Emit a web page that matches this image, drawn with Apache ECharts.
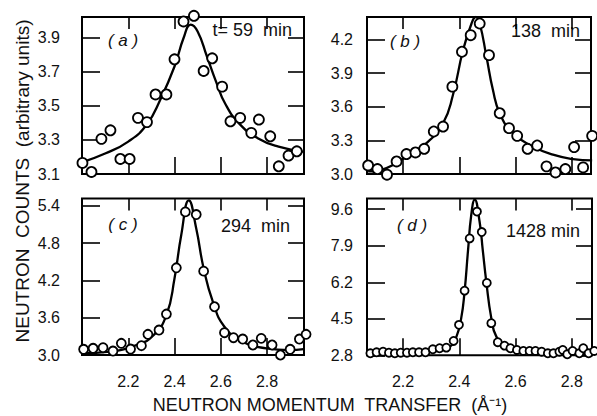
<!DOCTYPE html>
<html>
<head>
<meta charset="utf-8">
<script src="https://cdn.jsdelivr.net/npm/echarts@6.0.0/dist/echarts.min.js"></script>
<style>
html, body { margin: 0; padding: 0; background: #fff; }
#chart { width: 597px; height: 416px; }
</style>
</head>
<body>
<div id="chart"></div>
<script>
// tick labels
const xTicks = [2.2, 2.4, 2.6, 2.8];
const yTicksA = [3.1, 3.3, 3.5, 3.7, 3.9];
const yTicksB = [3.0, 3.3, 3.6, 3.9, 4.2];
const yTicksC = [3.0, 3.6, 4.2, 4.8, 5.4];
const yTicksD = [2.8, 4.5, 6.2, 7.9, 9.6];

// (a) t = 59 min
const xA = [2.002, 2.041, 2.084, 2.123, 2.166, 2.206, 2.242, 2.281, 2.318, 2.365, 2.40, 2.439,
  2.484, 2.526, 2.563, 2.606, 2.642, 2.684, 2.732, 2.765, 2.814, 2.851, 2.893, 2.929];
const yA = [3.165, 3.112, 3.306, 3.356, 3.188, 3.188, 3.429, 3.404, 3.566, 3.566, 3.772, 3.994,
  4.027, 3.704, 3.778, 3.612, 3.409, 3.429, 3.341, 3.419, 3.321, 3.145, 3.208, 3.233];
const fitXA = [2.002, 2.10, 2.20, 2.28, 2.34, 2.40, 2.44, 2.47, 2.50, 2.54, 2.58, 2.62, 2.68, 2.76, 2.85, 2.96];
const fitYA = [3.17, 3.22, 3.29, 3.39, 3.54, 3.73, 3.90, 3.975, 3.935, 3.79, 3.64, 3.51, 3.395, 3.31, 3.26, 3.23];

// (b) 138 min
const xB = [2.076, 2.109, 2.143, 2.177, 2.212, 2.244, 2.275, 2.309, 2.342, 2.375, 2.409, 2.44, 2.472,
  2.505, 2.543, 2.576, 2.605, 2.642, 2.676, 2.709, 2.741, 2.776, 2.807, 2.839, 2.871];
const yB = [3.076, 3.044, 2.994, 3.112, 3.178, 3.192, 3.225, 3.379, 3.423, 3.779, 4.09, 4.238, 4.342,
  4.06, 3.542, 3.409, 3.34, 3.225, 3.254, 3.068, 3.014, 3.044, 3.24, 3.059, 3.34];
const fitXB = [2.076, 2.141, 2.212, 2.283, 2.342, 2.377, 2.413, 2.443, 2.458, 2.472, 2.496, 2.519, 2.543, 2.59, 2.661, 2.732, 2.803, 2.871];
const fitYB = [3.023, 3.053, 3.156, 3.276, 3.453, 3.705, 4.105, 4.342, 4.40, 4.342, 4.045, 3.749, 3.542, 3.364, 3.245, 3.172, 3.133, 3.121];

// (c) 294 min
const xC = [2.007, 2.048, 2.091, 2.134, 2.17, 2.21, 2.257, 2.285, 2.333, 2.365, 2.408, 2.447, 2.494,
  2.526, 2.573, 2.616, 2.655, 2.695, 2.739, 2.775, 2.822, 2.858, 2.90, 2.94, 2.969];
const yC = [3.092, 3.108, 3.117, 3.064, 3.188, 3.096, 3.15, 3.333, 3.402, 3.659, 4.404, 5.304, 5.262,
  4.35, 3.777, 3.359, 3.278, 3.257, 3.161, 3.268, 3.161, 3.0, 3.092, 3.257, 3.333];
const fitXC = [2.002, 2.12, 2.235, 2.307, 2.365, 2.40, 2.429, 2.462, 2.494, 2.526, 2.566, 2.616, 2.695, 2.797, 2.897, 2.958];
const fitYC = [3.027, 3.053, 3.161, 3.31, 3.643, 4.233, 4.929, 5.49, 5.037, 4.394, 3.857, 3.455, 3.214, 3.108, 3.08, 3.096];

// (d) 1428 min
const xD = [2.084, 2.106, 2.129, 2.150, 2.171, 2.192, 2.214, 2.235, 2.257, 2.28, 2.306, 2.33, 2.354,
  2.38, 2.399, 2.419, 2.437, 2.463, 2.48, 2.498, 2.514, 2.537, 2.561, 2.582, 2.605, 2.628, 2.65,
  2.671, 2.693, 2.715, 2.735, 2.756, 2.768, 2.784, 2.803, 2.827, 2.841, 2.86, 2.88];
const yD = [2.894, 2.94, 2.968, 2.92, 2.894, 2.92, 2.92, 2.94, 2.94, 2.94, 3.08, 3.128, 3.156,
  3.469, 4.218, 5.809, 8.242, 9.49, 8.537, 6.169, 4.297, 3.408, 3.249, 3.128, 3.048, 3.001, 3.001,
  3.001, 2.968, 2.894, 2.894, 2.968, 3.048, 2.847, 3.001, 2.894, 3.128, 2.894, 3.001];
const fitXD = [2.075, 2.188, 2.306, 2.366, 2.39, 2.407, 2.419, 2.431, 2.443, 2.455, 2.472, 2.484, 2.496, 2.514, 2.532, 2.567, 2.638, 2.756, 2.88];
const fitYD = [2.847, 2.894, 2.999, 3.2, 3.67, 4.53, 5.78, 7.65, 9.37, 10.05, 9.05, 7.65, 6.24, 4.53, 3.67, 3.2, 3.0, 2.894, 2.894];

const pair = (xs, ys) => xs.map((x, i) => [x, ys[i]]);
const FONT = "'Liberation Sans', Arial, sans-serif";

const panels = [
  { grid: { left: 82, top: 17, width: 222, height: 157 }, xMin: 2.0, xMax: 2.96, yMin: 3.1, yMax: 4.02,
    yTicks: yTicksA, xLabel: false, labelMargin: 22, pts: pair(xA, yA), fit: pair(fitXA, fitYA), size: 10 },
  { grid: { left: 367, top: 17, width: 224, height: 157 }, xMin: 2.072, xMax: 2.867, yMin: 3.0, yMax: 4.4,
    yTicks: yTicksB, xLabel: false, labelMargin: 14, pts: pair(xB, yB), fit: pair(fitXB, fitYB), size: 10 },
  { grid: { left: 82, top: 198.5, width: 222, height: 156.5 }, xMin: 2.0, xMax: 2.96, yMin: 3.0, yMax: 5.52,
    yTicks: yTicksC, xLabel: true, labelMargin: 22, pts: pair(xC, yC), fit: pair(fitXC, fitYC), size: 9 },
  { grid: { left: 367, top: 198.5, width: 225, height: 156.8 }, xMin: 2.072, xMax: 2.872, yMin: 2.8, yMax: 10.1,
    yTicks: yTicksD, xLabel: true, labelMargin: 14, pts: pair(xD, yD), fit: pair(fitXD, fitYD), size: 8 }
];

const grids = [], xAxes = [], yAxes = [], series = [];
const tickStyle = { color: '#000', width: 1.6 };

panels.forEach((p, i) => {
  grids.push(Object.assign({ show: true, borderColor: '#000', borderWidth: 2, backgroundColor: 'transparent' }, p.grid));
  // bottom and top x axes
  xAxes.push({
    type: 'value', gridIndex: i, min: p.xMin, max: p.xMax, position: 'bottom',
    axisLine: { show: false }, splitLine: { show: false },
    axisTick: { show: true, inside: true, length: 17, lineStyle: tickStyle, customValues: xTicks },
    axisLabel: { show: p.xLabel, customValues: xTicks, margin: 18, color: '#111', fontSize: 16, fontFamily: FONT,
      formatter: v => v.toFixed(1) }
  });
  xAxes.push({
    type: 'value', gridIndex: i, min: p.xMin, max: p.xMax, position: 'top',
    axisLine: { show: false }, splitLine: { show: false },
    axisTick: { show: true, inside: true, length: 12, lineStyle: tickStyle, customValues: xTicks },
    axisLabel: { show: false }
  });
  // left and right y axes
  yAxes.push({
    type: 'value', gridIndex: i, min: p.yMin, max: p.yMax, position: 'left',
    axisLine: { show: false }, splitLine: { show: false },
    axisTick: { show: true, inside: true, length: 18, lineStyle: tickStyle, customValues: p.yTicks },
    axisLabel: { show: true, customValues: p.yTicks, margin: p.labelMargin, color: '#111', fontSize: 16, fontFamily: FONT,
      formatter: v => v.toFixed(1) }
  });
  yAxes.push({
    type: 'value', gridIndex: i, min: p.yMin, max: p.yMax, position: 'right',
    axisLine: { show: false }, splitLine: { show: false },
    axisTick: { show: true, inside: true, length: 16, lineStyle: tickStyle, customValues: p.yTicks },
    axisLabel: { show: false }
  });

  series.push({
    type: 'line', xAxisIndex: 2 * i, yAxisIndex: 2 * i, data: p.fit,
    smooth: 0.5, showSymbol: false, silent: true, z: 2,
    lineStyle: { color: '#000', width: 2.3 }
  });
  series.push({
    type: 'scatter', xAxisIndex: 2 * i, yAxisIndex: 2 * i, data: p.pts,
    symbol: 'circle', symbolSize: p.size, clip: false, silent: true, z: 3,
    itemStyle: { color: '#fff', borderColor: '#000', borderWidth: 1.8, opacity: 1 }
  });
});

const txt = (x, y, text, align, extra) => ({
  type: 'text', x: x, y: y, silent: true,
  style: Object.assign({ text: text, fill: '#111', font: '16px ' + FONT, align: align, verticalAlign: 'middle' }, extra || {})
});

const graphics = [
  txt(123, 40, '( a )', 'center', { font: 'italic 17px ' + FONT }),
  txt(292, 30, 't= 59  min', 'right', { font: '18px ' + FONT }),
  txt(405, 41, '( b )', 'center', { font: 'italic 17px ' + FONT }),
  txt(580, 31, '138  min', 'right', { font: '18px ' + FONT }),
  txt(123, 224, '( c )', 'center', { font: 'italic 17px ' + FONT }),
  txt(290, 226, '294  min', 'right', { font: '18px ' + FONT }),
  txt(412, 225, '( d )', 'center', { font: 'italic 17px ' + FONT }),
  txt(580, 231, '1428 min', 'right', { font: '18px ' + FONT }),
  txt(330, 405, 'NEUTRON MOMENTUM  TRANSFER  (Å⁻¹)', 'center', { font: '18px ' + FONT }),
  {
    type: 'text', x: 22, y: 181, rotation: Math.PI / 2, silent: true,
    style: { text: 'NEUTRON  COUNTS  (arbitrary units)', fill: '#111', font: '19px ' + FONT, align: 'center', verticalAlign: 'middle' }
  }
];

const chart = echarts.init(document.getElementById('chart'), null, { renderer: 'svg' });
chart.setOption({
  animation: false,
  backgroundColor: '#fff',
  grid: grids,
  xAxis: xAxes,
  yAxis: yAxes,
  series: series,
  graphic: graphics
});
</script>
</body>
</html>
